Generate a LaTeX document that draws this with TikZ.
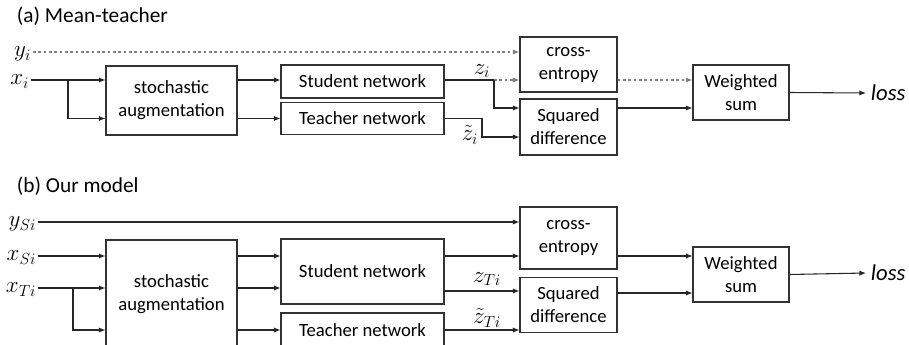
\documentclass[tikz,border=0pt]{standalone}
\usepackage{fontspec}
\setmainfont{Carlito}
\usetikzlibrary{arrows.meta,positioning}
\newcommand{\pxu}{0.75pt}
\tikzset{
    box/.style={draw=black!80,rectangle,align=center,inner sep=0pt},
    lab/.style={anchor=east,inner sep=1pt,text depth=0pt,font=\fontsize{17}{20}\selectfont},
    zlab/.style={font=\fontsize{17}{20}\selectfont},
    title/.style={anchor=west,font=\fontsize{16}{19}\selectfont},
    arr/.style={draw=black!85,-{Latex[length=5pt,width=4pt]}},
    dashline/.style={draw=black!50,dash pattern=on 2pt off 2pt},
}
\begin{document}
\begin{tikzpicture}
                [x=0.75pt,y=-0.75pt,line width=0.8pt,
                 every node/.style={font=\fontsize{14}{17.25}\selectfont}]
                \useasboundingbox (0,0) rectangle (909,345);
                \clip (0,0) rectangle (909,345);

                % (a) Mean-teacher
                \node[title] (ta) at (12,16) {(a) Mean-teacher};
                \node[lab] (yi) at (33,52) {$y_i$};
                \node[lab] (xi) at (31,80) {$x_i$};
                \node[box,minimum width=131*\pxu,minimum height=69*\pxu] (auga) at (171.5,100.5) {stochastic\\augmentation};
                \node[box,minimum width=163*\pxu,minimum height=33*\pxu] (studa) at (362.5,81.5) {Student network};
                \node[box,minimum width=163*\pxu,minimum height=32*\pxu] (teacha) at (362.5,118.5) {Teacher network};
                \node[box,minimum width=97*\pxu,minimum height=55*\pxu] (cea) at (568.5,64.5) {cross-\\entropy};
                \node[box,minimum width=97*\pxu,minimum height=56*\pxu] (sqa) at (568.5,127) {Squared\\difference};
                \node[box,minimum width=96*\pxu,minimum height=55*\pxu] (wsa) at (741,92.5) {Weighted\\sum};
                \node[anchor=west,font=\fontsize{17}{20}\selectfont] (lossa) at (866,93) {\textit{loss}};
                \node[zlab] (zi) at (482,71) {$z_i$};
                \node[zlab] (zti) at (470,135) {$\tilde{z}_i$};

                \coordinate (bra) at (68,80);
                \coordinate (bza) at (494,80);
                \coordinate (bsa) at (494,108);
                \coordinate (bta) at (482,137);

                \draw[arr,dashline] (yi.east) -- (yi.east -| cea.west);
                \draw[arr] (xi.east) -- (xi.east -| auga.west);
                \draw[arr] (bra) |- (auga.west |- teacha.west);
                \draw[arr] (auga.east |- xi.east) -- (studa.west |- xi.east);
                \draw[arr] (auga.east |- teacha.west) -- (teacha.west);
                \draw[draw=black!85] (studa.east |- bza) -- (bza);
                \draw[arr,dashline] (bza) -- (bza -| cea.west);
                \draw[arr] (bza) |- (bsa -| sqa.west);
                \draw[arr] (teacha.east) -| (bta) -- (bta -| sqa.west);
                \draw[arr,dashline] (cea.east |- bza) -- (wsa.west |- bza);
                \draw[arr] (sqa.east |- bsa) -- (wsa.west |- bsa);
                \draw[arr] (wsa.east) -- (lossa.west);

                % (b) Our model
                \node[title] (tb) at (12,186) {(b) Our model};
                \node[lab] (ysi) at (38,222) {$y_{Si}$};
                \node[lab] (xsi) at (38,256) {$x_{Si}$};
                \node[lab] (xti) at (38,288) {$x_{Ti}$};
                \node[box,minimum width=131*\pxu,minimum height=109*\pxu] (augb) at (171.5,294.5) {stochastic\\augmentation};
                \node[box,minimum width=163*\pxu,minimum height=65*\pxu] (studb) at (362.5,271.5) {Student network};
                \node[box,minimum width=163*\pxu,minimum height=34*\pxu] (teachb) at (362.5,330) {Teacher network};
                \node[box,minimum width=97*\pxu,minimum height=62*\pxu] (ceb) at (568.5,238) {cross-\\entropy};
                \node[box,minimum width=97*\pxu,minimum height=55*\pxu] (sqb) at (568.5,305) {Squared\\difference};
                \node[box,minimum width=96*\pxu,minimum height=55*\pxu] (wsb) at (741,274.5) {Weighted\\sum};
                \node[anchor=west,font=\fontsize{17}{20}\selectfont] (lossb) at (866,273) {\textit{loss}};
                \node[zlab] (zTi) at (487,279) {$z_{Ti}$};
                \node[zlab] (ztTi) at (487,318) {$\tilde{z}_{Ti}$};

                \coordinate (brb) at (73,288);
                \coordinate (szb) at (444,291);
                \coordinate (swb) at (617,293);

                \draw[arr] (ysi.east) -- (ysi.east -| ceb.west);
                \foreach \i in {xsi,xti}
                {
                    \draw[arr] (\i.east) -- (\i.east -| augb.west);
                    \draw[arr] (augb.east |- \i.east) -- (studb.west |- \i.east);
                }
                \draw[arr] (brb) |- (augb.west |- teachb.west);
                \draw[arr] (augb.east |- teachb.west) -- (teachb.west);
                \draw[arr] (studb.east |- xsi.east) -- (ceb.west |- xsi.east);
                \draw[arr] (szb) -- (szb -| sqb.west);
                \draw[arr] (teachb.east) -- (teachb.east -| sqb.west);
                \draw[arr] (ceb.east |- xsi.east) -- (wsb.west |- xsi.east);
                \draw[arr] (swb) -- (swb -| wsb.west);
                \draw[arr] (wsb.east) -- (lossb.west);
            \end{tikzpicture}
\end{document}
